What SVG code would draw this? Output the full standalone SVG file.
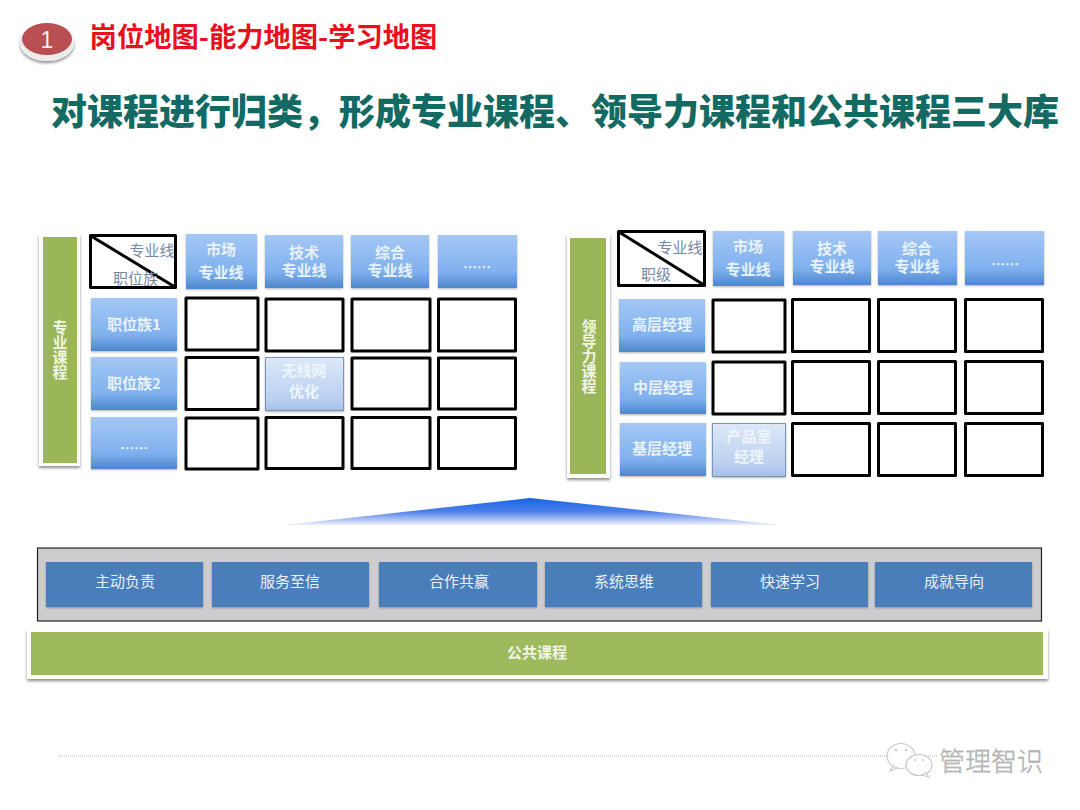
<svg xmlns="http://www.w3.org/2000/svg" width="1080" height="810" viewBox="0 0 1080 810">
<style>
text{font-family:"Noto Sans CJK SC","Liberation Sans",sans-serif;text-anchor:middle}
.hdr{fill:url(#blue);filter:url(#soft)}
.lbl{fill:#e8f2fb;font-size:15px;font-weight:700}
.cell{fill:#fff;stroke:#000;stroke-width:3;stroke-linejoin:round}
.hi{fill:url(#pale);stroke:#7d95b5;stroke-width:1;filter:url(#soft)}
.hil{fill:#eef4fc;font-size:15px;font-weight:700}
.dl{stroke:#000;stroke-width:3}
.dt{fill:#7487a3;font-size:15px}
.side{fill:#9bb659}
.sidebg{fill:#fff;filter:url(#shadow)}
.sl{fill:#f0f5e4;font-size:15px;font-weight:700}
.vt{writing-mode:vertical-rl;text-orientation:upright}
.b{fill:#4a7ebb;filter:url(#soft)}
.bt{fill:#e9f1fa;font-size:15px}
</style>
<defs>
<linearGradient id="blue" x1="0" y1="0" x2="0" y2="1"><stop offset="0" stop-color="#a5c8f5"/><stop offset=".7" stop-color="#7fb0ee"/><stop offset="1" stop-color="#4d86cc"/></linearGradient>
<linearGradient id="pale" x1="0" y1="0" x2="0" y2="1"><stop offset="0" stop-color="#dde8f8"/><stop offset=".8" stop-color="#b9cff0"/><stop offset="1" stop-color="#a3bee6"/></linearGradient>
<linearGradient id="pyr" x1="0" y1="0" x2="0" y2="1"><stop offset="0" stop-color="#1565e6"/><stop offset=".5" stop-color="#4d80ea"/><stop offset="1" stop-color="#eeeefc"/></linearGradient>
<filter id="soft" x="-10%" y="-10%" width="120%" height="125%"><feDropShadow dx="0" dy="1" stdDeviation="1" flood-color="#000" flood-opacity=".3"/></filter>
<filter id="shadow" x="-20%" y="-10%" width="140%" height="120%"><feDropShadow dx="0" dy="2" stdDeviation="1.5" flood-color="#000" flood-opacity=".45"/></filter>
</defs>
<rect width="1080" height="810" fill="#fff"/>
<g id="heading">
<ellipse cx="47" cy="43" rx="27" ry="18" fill="#ececec" filter="url(#shadow)"/>
<ellipse cx="47" cy="39" rx="25" ry="16" fill="#b94f52"/>
<text x="47" y="48" fill="#f5eeee" style="font-family:'Liberation Sans',sans-serif;font-size:23px">1</text>
<text x="263.500" y="47" fill="#e8101c" style="font-size:27.300px;font-weight:700">岗位地图-能力地图-学习地图</text>
<text x="555" y="125" fill="#126a62" style="font-size:36px;font-weight:900">对课程进行归类，形成专业课程、领导力课程和公共课程三大库</text>
</g>
<g id="left-matrix">
<g id="left-side"><rect class="sidebg" x="39" y="234" width="41" height="232"/><rect class="side" x="43" y="237" width="34" height="226"/><text class="sl vt" x="60" y="350">专业课程</text></g>
<g id="left-corner"><rect class="cell" x="90.500" y="235.500" width="85" height="52"/><line class="dl" x1="91" y1="236" x2="175" y2="287"/><text class="dt" x="152" y="256">专业线</text><text class="dt" x="135.500" y="284">职位族</text></g>
<g id="l-h1"><rect class="hdr" x="186" y="234" width="71" height="55"/><text class="lbl" x="221" y="255">市场</text><text class="lbl" x="221" y="278">专业线</text></g>
<g id="l-h2"><rect class="hdr" x="265" y="235" width="78" height="53"/><text class="lbl" x="304" y="258">技术</text><text class="lbl" x="304" y="276">专业线</text></g>
<g id="l-h3"><rect class="hdr" x="351" y="235" width="78" height="53"/><text class="lbl" x="390" y="258">综合</text><text class="lbl" x="390" y="276">专业线</text></g>
<g id="l-h4"><rect class="hdr" x="438" y="235" width="79" height="53"/><text class="lbl" x="477" y="272" style="font-size:14px">……</text></g>
<g id="l-r1"><rect class="hdr" x="91" y="298" width="86" height="53"/><text class="lbl" x="134" y="330">职位族1</text></g>
<g id="l-r2"><rect class="hdr" x="91" y="357" width="86" height="53"/><text class="lbl" x="134" y="389">职位族2</text></g>
<g id="l-r3"><rect class="hdr" x="91" y="417" width="86" height="52"/><text class="lbl" x="134" y="453" style="font-size:14px">……</text></g>
<g id="l-cells">
<rect class="cell" x="186" y="298" width="72" height="52"/><rect class="cell" x="266" y="299" width="77" height="52"/><rect class="cell" x="352" y="299" width="78" height="52"/><rect class="cell" x="438.500" y="299" width="77" height="52"/>
<rect class="cell" x="186" y="357.500" width="72" height="52"/><rect class="cell" x="352" y="358" width="78" height="51"/><rect class="cell" x="438.500" y="358" width="77" height="51"/>
<rect class="cell" x="186" y="418" width="72" height="51"/><rect class="cell" x="266" y="417.500" width="77" height="51"/><rect class="cell" x="352" y="417.500" width="78" height="51"/><rect class="cell" x="438.500" y="417.500" width="77" height="51"/>
</g>
<g id="l-hi"><rect class="hi" x="265.500" y="357.500" width="78" height="53"/><text class="hil" x="304" y="376">无线网</text><text class="hil" x="304" y="397">优化</text></g>
</g>
<g id="right-matrix">
<g id="right-side"><rect class="sidebg" x="567" y="234" width="43" height="244"/><rect class="side" x="570" y="238" width="36" height="236"/><text class="sl vt" x="589" y="356">领导力课程</text></g>
<g id="right-corner"><rect class="cell" x="618.500" y="231.500" width="86" height="54"/><line class="dl" x1="619" y1="232" x2="704" y2="285"/><text class="dt" x="680" y="253">专业线</text><text class="dt" x="656" y="280">职级</text></g>
<g id="r-h1"><rect class="hdr" x="713" y="231" width="71" height="55"/><text class="lbl" x="748" y="252">市场</text><text class="lbl" x="748" y="275">专业线</text></g>
<g id="r-h2"><rect class="hdr" x="793" y="231" width="78" height="54"/><text class="lbl" x="832" y="254">技术</text><text class="lbl" x="832" y="272">专业线</text></g>
<g id="r-h3"><rect class="hdr" x="878" y="231" width="79" height="54"/><text class="lbl" x="917" y="254">综合</text><text class="lbl" x="917" y="272">专业线</text></g>
<g id="r-h4"><rect class="hdr" x="965" y="231" width="79" height="54"/><text class="lbl" x="1005" y="269" style="font-size:14px">……</text></g>
<g id="r-r1"><rect class="hdr" x="619" y="299" width="86" height="53"/><text class="lbl" x="662" y="330">高层经理</text></g>
<g id="r-r2"><rect class="hdr" x="620" y="362" width="86" height="52"/><text class="lbl" x="663" y="393">中层经理</text></g>
<g id="r-r3"><rect class="hdr" x="620" y="423" width="86" height="53"/><text class="lbl" x="662" y="454">基层经理</text></g>
<g id="r-cells">
<rect class="cell" x="713" y="300" width="72" height="52"/><rect class="cell" x="792.500" y="299.500" width="77" height="52"/><rect class="cell" x="878.500" y="299.500" width="77" height="52"/><rect class="cell" x="965.500" y="299.500" width="77" height="52"/>
<rect class="cell" x="713" y="362" width="72" height="52"/><rect class="cell" x="792.500" y="361.500" width="77" height="52"/><rect class="cell" x="878.500" y="361.500" width="77" height="52"/><rect class="cell" x="965.500" y="361.500" width="77" height="52"/>
<rect class="cell" x="792.500" y="423.500" width="77" height="52"/><rect class="cell" x="878.500" y="423.500" width="77" height="52"/><rect class="cell" x="965.500" y="423.500" width="77" height="52"/>
</g>
<g id="r-hi"><rect class="hi" x="712.500" y="423.500" width="73" height="53"/><text class="hil" x="749" y="442">产品室</text><text class="hil" x="749" y="462">经理</text></g>
</g>
<polygon id="pyramid" points="285,525 530,498 780,525" fill="url(#pyr)"/>
<g id="competency">
<rect x="37.500" y="548" width="1004" height="73" fill="#cdcdcf" stroke="#222" stroke-width="1.200"/>
<g id="c1"><rect class="b" x="46" y="562" width="157" height="45"/><text class="bt" x="125" y="587">主动负责</text></g>
<g id="c2"><rect class="b" x="212" y="562" width="157" height="45"/><text class="bt" x="290" y="587">服务至信</text></g>
<g id="c3"><rect class="b" x="379" y="562" width="158" height="45"/><text class="bt" x="459" y="587">合作共赢</text></g>
<g id="c4"><rect class="b" x="545" y="562" width="157" height="45"/><text class="bt" x="624" y="587">系统思维</text></g>
<g id="c5"><rect class="b" x="711" y="562" width="157" height="45"/><text class="bt" x="790" y="587">快速学习</text></g>
<g id="c6"><rect class="b" x="875" y="562" width="157" height="45"/><text class="bt" x="954" y="587">成就导向</text></g>
</g>
<g id="public"><rect class="sidebg" x="27" y="629" width="1021" height="50"/><rect class="side" x="31" y="632" width="1012" height="43" style="fill:#9eba5d"/><text class="sl" x="537" y="658">公共课程</text></g>
<g id="footer">
<line x1="58" y1="756" x2="938" y2="756" stroke="#b5b5b5" stroke-dasharray="1 1"/>
<g fill="#fff" stroke="#c8c8c8" stroke-width="1.200"><ellipse cx="901" cy="756" rx="14" ry="12.500"/><path d="M893 766l-3 5 7-3z"/><ellipse cx="919" cy="765" rx="13" ry="10.500"/><path d="M926 773l3 4-7-2z"/></g>
<g fill="#c8c8c8"><circle cx="896" cy="750" r="1.300"/><circle cx="906" cy="750" r="1.300"/><circle cx="915" cy="760" r="1"/><circle cx="923" cy="760" r="1"/></g>
<text x="991" y="771" fill="#c4c4c4" stroke="#8f8f8f" stroke-width=".3" style="font-size:26px;font-weight:300">管理智识</text>
</g>
</svg>
